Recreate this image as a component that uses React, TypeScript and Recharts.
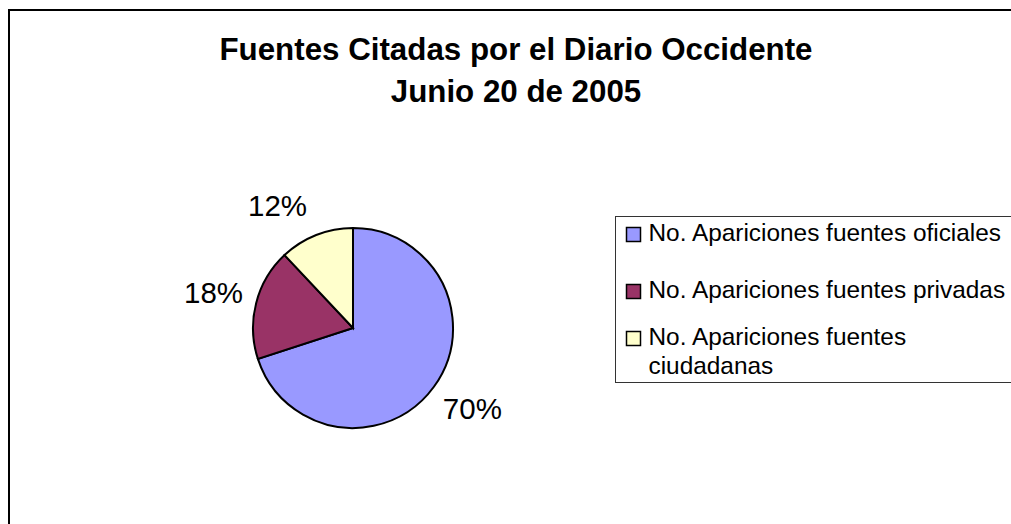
import React from 'react';
import { PieChart, Pie, Cell, Legend, Customized } from 'recharts';

const categories = [
  'No. Apariciones fuentes oficiales',
  'No. Apariciones fuentes privadas',
  'No. Apariciones fuentes ciudadanas',
];
const legendLines = [
  ['No. Apariciones fuentes oficiales'],
  ['No. Apariciones fuentes privadas'],
  ['No. Apariciones fuentes', 'ciudadanas'],
];
const values = [70, 18, 12];
const colors = ['#9999FF', '#993366', '#FFFFCC'];
const titleLines = ['Fuentes Citadas por el Diario Occidente', 'Junio 20 de 2005'];

const data = categories.map((name, i) => ({ name, value: values[i] }));

const FONT = '"Liberation Sans", Arial, sans-serif';
const RAD = Math.PI / 180;
const labelAngleAdjust = [2, 0, 10];

const renderLabel = (props: any) => {
  const { cx, cy, midAngle, outerRadius, percent, index } = props;
  const r = outerRadius + 44;
  const a = (midAngle + labelAngleAdjust[index]) * RAD;
  const x = cx + r * Math.cos(a);
  const y = cy - r * Math.sin(a);
  return (
    <text x={x} y={y + 10.6} textAnchor="middle" fontSize={29.5} fontFamily={FONT} fill="#000">
      {`${Math.round(percent * 100)}%`}
    </text>
  );
};

const Frame = () => (
  <g>
    <rect x={9} y={10} width={1300} height={900} fill="none" stroke="#000" strokeWidth={2} />
    {titleLines.map((t, i) => (
      <text
        key={i}
        x={516}
        y={60 + i * 42}
        textAnchor="middle"
        fontSize={31.3}
        fontWeight="bold"
        fontFamily={FONT}
        fill="#000"
      >
        {t}
      </text>
    ))}
  </g>
);

const rowBaselines = [25, 82, 129];
const lineHeight = 29;

const renderLegend = (props: any) => {
  const payload = props.payload || [];
  return (
    <svg width={420} height={170} style={{ display: 'block', overflow: 'visible' }}>
      <rect x={0.5} y={0.5} width={600} height={166} fill="#fff" stroke="#333" strokeWidth={1} />
      {payload.map((entry: any, i: number) => {
        const b = rowBaselines[i];
        return (
          <g key={i}>
            <rect x={11.5} y={b - 13.5} width={14} height={14} fill={colors[i]} stroke="#000" strokeWidth={1.5} />
            {legendLines[i].map((ln, j) => (
              <text key={j} x={33.5} y={b + j * lineHeight} fontSize={24.4} fontFamily={FONT} fill="#000">
                {ln}
              </text>
            ))}
          </g>
        );
      })}
    </svg>
  );
};

export default function App() {
  return (
    <div
      style={{
        position: 'absolute',
        left: 0,
        top: 0,
        width: 1011,
        height: 524,
        overflow: 'hidden',
        background: '#fff',
      }}
    >
      <PieChart width={1011} height={524} margin={{ top: 0, right: 0, bottom: 0, left: 0 }}>
        <Customized component={Frame} />
        <Pie
          data={data}
          dataKey="value"
          nameKey="name"
          cx={353}
          cy={328}
          outerRadius={100}
          startAngle={90}
          endAngle={-270}
          stroke="#000"
          strokeWidth={2}
          label={renderLabel}
          labelLine={false}
          isAnimationActive={false}
        >
          {data.map((d, i) => (
            <Cell key={d.name} fill={colors[i]} />
          ))}
        </Pie>
        <Legend
          layout="vertical"
          align="right"
          verticalAlign="middle"
          content={renderLegend}
          wrapperStyle={{ position: 'absolute', left: 615, top: 216, width: 420, height: 170 }}
        />
      </PieChart>
    </div>
  );
}
